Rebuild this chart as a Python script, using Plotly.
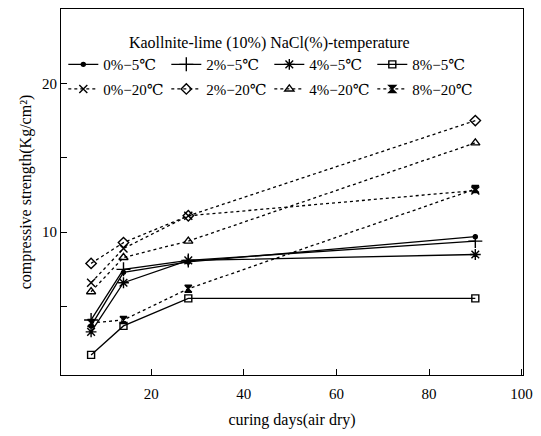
import plotly.graph_objects as go

days = [7, 14, 28, 90]
names = ["0%−5℃", "2%−5℃", "4%−5℃", "8%−5℃",
         "0%−20℃", "2%−20℃", "4%−20℃", "8%−20℃"]
s0_5 = [3.7, 7.3, 8.0, 9.7]
s2_5 = [4.1, 7.5, 8.1, 9.4]
s4_5 = [3.3, 6.6, 8.1, 8.5]
s8_5 = [1.75, 3.7, 5.55, 5.55]
s0_20 = [6.6, 8.9, 11.1, 12.8]
s2_20 = [7.9, 9.3, 11.1, 17.5]
s4_20 = [6.0, 8.3, 9.4, 16.0]
s8_20 = [3.9, 4.1, 6.2, 12.9]
series = [s0_5, s2_5, s4_5, s8_5, s0_20, s2_20, s4_20, s8_20]
symbols = ["circle", "cross-thin", "asterisk", "square-open",
           "x-thin", "diamond-open", "triangle-up-open", "hourglass"]
sizes = [4, 10, 9, 7, 8, 8, 8, 7]
dashes = ["solid"] * 4 + ["dot"] * 4

serif = "'Liberation Serif', 'Times New Roman', 'DejaVu Serif', serif"

fig = go.Figure()
for i, (nm, ys, sym, sz, ds) in enumerate(zip(names, series, symbols, sizes, dashes)):
    fig.add_trace(go.Scatter(
        x=days, y=ys, name=nm, mode="lines+markers",
        legend="legend" if i < 4 else "legend2",
        line=dict(color="black", width=1.3, dash=ds),
        marker=dict(symbol=sym, size=sz, color="black",
                    line=dict(color="black", width=1.4)),
    ))

legend_common = dict(
    orientation="h", xanchor="left", yanchor="top",
    entrywidth=58, entrywidthmode="pixels",
    font=dict(size=15, family=serif),
    itemwidth=30, tracegroupgap=0, bgcolor="rgba(0,0,0,0)",
)
fig.update_layout(
    width=541, height=436,
    margin=dict(l=61, r=10, t=8, b=61),
    paper_bgcolor="white", plot_bgcolor="white",
    font=dict(family=serif, color="black", size=15),
    legend=dict(
        x=0.005, y=0.95,
        title=dict(text="Kaollnite-lime (10%) NaCl(%)-temperature", side="top center",
                   font=dict(size=16, family=serif)),
        **legend_common,
    ),
    legend2=dict(x=0.005, y=0.826, **legend_common),
    showlegend=True,
)
fig.update_xaxes(
    range=[0.5, 100.3], tickvals=[20, 40, 60, 80, 100],
    ticks="inside", ticklen=6, tickcolor="black", ticklabelstandoff=5,
    showline=True, linecolor="black", linewidth=1.2, mirror=True,
    showgrid=False, zeroline=False,
    title=dict(text="curing days(air dry)", font=dict(size=16, family=serif), standoff=12),
)
fig.update_yaxes(
    range=[0.4, 25.0], tickvals=[5, 10, 15, 20], ticktext=["", "10", "", "20"],
    ticks="inside", ticklen=6, tickcolor="black",
    showline=True, linecolor="black", linewidth=1.2, mirror=True,
    showgrid=False, zeroline=False,
    title=dict(text="compressive strength(Kg/cm²)", font=dict(size=16, family=serif), standoff=6),
)
fig.write_html("out.html")
